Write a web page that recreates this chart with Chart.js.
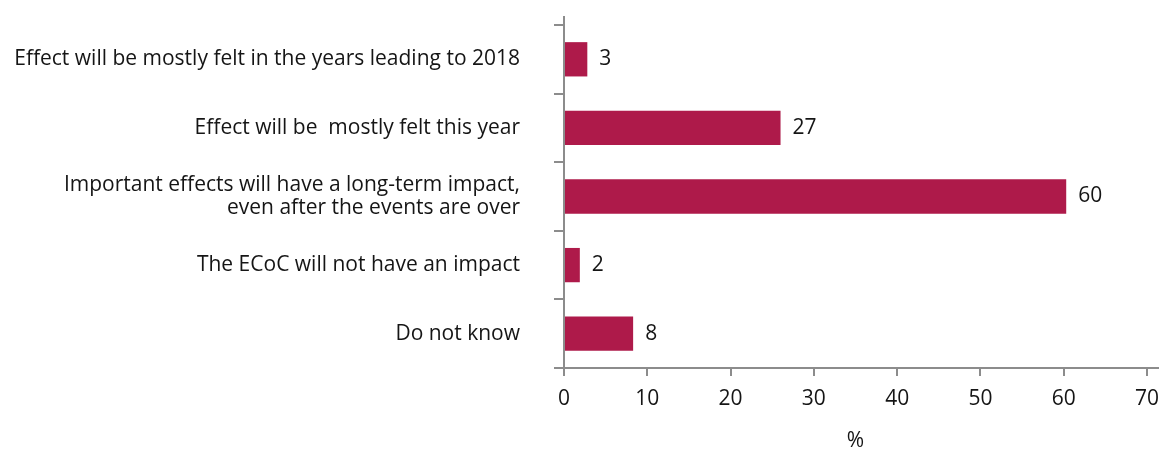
<!DOCTYPE html>
<html><head><meta charset="utf-8">
<script src="https://cdn.jsdelivr.net/npm/chart.js@4.4.1/dist/chart.umd.min.js"></script>
<style>html,body{margin:0;padding:0;background:#fff}#wrap{width:1159px;height:450px}</style>
</head><body><div id="wrap"><canvas id="c" width="1159" height="450"></canvas></div>
<script>
const categories = [
  "Effect will be mostly felt in the years leading to 2018",
  "Effect will be  mostly felt this year",
  ["Important effects will have a long-term impact,", "even after the events are over"],
  "The ECoC will not have an impact",
  "Do not know"
];
const values = [2.8, 26, 60.3, 1.9, 8.3];
const valueLabels = ["3", "27", "60", "2", "8"];
const xTicks = [0, 10, 20, 30, 40, 50, 60, 70];
const xTitle = "%";

const FONT = "'Open Sans', sans-serif";
const AXIS = "#8c8c8c";
const TEXT = "#151515";

const valueLabelPlugin = {
  id: 'valueLabels',
  afterDatasetsDraw(chart) {
    const ctx = chart.ctx;
    const meta = chart.getDatasetMeta(0);
    ctx.save();
    ctx.font = "21px " + FONT;
    ctx.fillStyle = TEXT;
    ctx.textAlign = 'left';
    ctx.textBaseline = 'middle';
    meta.data.forEach((bar, i) => {
      ctx.fillText(valueLabels[i], bar.x + 12, bar.y);
    });
    ctx.restore();
  }
};

const axisLinePlugin = {
  id: 'axisLines',
  afterDraw(chart) {
    const ctx = chart.ctx;
    const a = chart.chartArea;
    ctx.save();
    ctx.strokeStyle = AXIS;
    ctx.lineWidth = 2;
    ctx.beginPath();
    ctx.moveTo(a.left, a.top - 9);
    ctx.lineTo(a.left, a.bottom);
    ctx.moveTo(a.left - 9, a.bottom);
    ctx.lineTo(chart.width, a.bottom);
    ctx.stroke();
    ctx.restore();
  }
};

new Chart(document.getElementById('c'), {
  type: 'bar',
  data: {
    labels: categories,
    datasets: [{
      data: values,
      backgroundColor: '#ae1a4a',
      borderWidth: 0,
      barPercentage: 0.5,
      categoryPercentage: 1.0
    }]
  },
  options: {
    indexAxis: 'y',
    responsive: false,
    animation: false,
    devicePixelRatio: 1,
    layout: { padding: { top: 25, right: 12, left: 0, bottom: 0 } },
    plugins: { legend: { display: false }, tooltip: { enabled: false } },
    scales: {
      x: {
        type: 'linear',
        min: 0, max: 70,
        afterBuildTicks: (s) => { s.ticks = xTicks.map(v => ({ value: v })); },
        afterFit: (s) => { s.height = 82; s.paddingLeft = 0; s.paddingRight = 0; },
        border: { display: false },
        grid: { drawOnChartArea: false, drawTicks: true, tickLength: 8, tickColor: AXIS, lineWidth: 2 },
        ticks: { color: TEXT, font: { family: FONT, size: 21 }, padding: 10, maxRotation: 0 },
        title: { display: true, text: xTitle, color: TEXT, font: { family: FONT, size: 21, lineHeight: 0.85 }, padding: { top: 0, bottom: 0 } }
      },
      y: {
        type: 'category',
        offset: true,
        afterFit: (s) => { s.width = 564; s.paddingTop = 0; s.paddingBottom = 0; },
        border: { display: false },
        grid: { offset: true, drawOnChartArea: false, drawTicks: true, tickLength: 10, tickColor: AXIS, lineWidth: 2 },
        ticks: { color: TEXT, font: { family: FONT, size: 21, lineHeight: 1.05 }, padding: 34, crossAlign: 'near', autoSkip: false }
      }
    }
  },
  plugins: [valueLabelPlugin, axisLinePlugin]
});
</script>
</body></html>
